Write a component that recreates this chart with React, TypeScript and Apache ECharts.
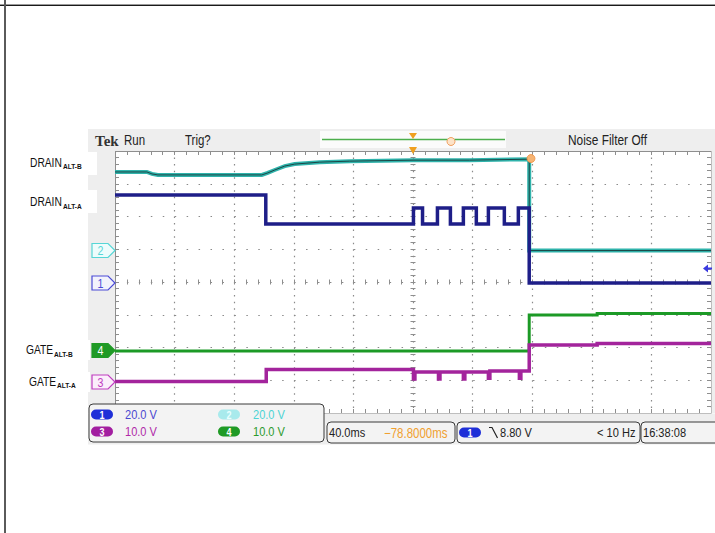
import React, { useEffect, useRef } from "react";
import * as echarts from "echarts";

// ---- Data (time in ms relative to screen centre, 40 ms/div; values in divisions from centre) ----
const timeMin = -200;
const timeMax = 200;
const timeStep = 40;
const divMin = -4;
const divMax = 4;

// CH2 – DRAIN ALT-B (cyan)
const ch2Time = [-200, -178.6, -175.2, -171.2, -101.5, -97.5, -92.8, -86.1, -79.4, -62.6, -42.5, 0, 37.9, 78, 78, 200];
const ch2Div = [3.36, 3.36, 3.3, 3.27, 3.27, 3.33, 3.42, 3.54, 3.6, 3.66, 3.69, 3.72, 3.72, 3.75, 0.96, 0.96];

// CH1 – DRAIN ALT-A (navy)
const ch1Time = [-200, -98.8, -98.8, 0.3, 0.3, 6.4, 6.4, 16.4, 16.4, 25.1, 25.1, 33.8, 33.8, 42.5, 42.5, 50.6, 50.6, 61.3, 61.3, 70.7, 70.7, 78, 78, 200];
const ch1Div = [2.66, 2.66, 1.77, 1.77, 2.26, 2.26, 1.77, 1.77, 2.26, 2.26, 1.77, 1.77, 2.26, 2.26, 1.77, 1.77, 2.26, 2.26, 1.77, 1.77, 2.26, 2.26, -0.03, -0.03];

// CH4 – GATE ALT-B (green)
const ch4Time = [-200, 78, 78, 123.6, 123.6, 200];
const ch4Div = [-2.11, -2.11, -1.01, -1.01, -0.96, -0.96];

// CH3 – GATE ALT-A (magenta)
const ch3Time = [-200, -98.5, -98.5, 0.3, 0.3, 1.3, 1.3, 17.1, 17.1, 18.1, 18.1, 33.8, 33.8, 34.8, 34.8, 50.6, 50.6, 51.6, 51.6, 71.4, 71.4, 72.4, 72.4, 78, 78, 123.6, 123.6, 200];
const ch3Div = [-3.04, -3.04, -2.67, -2.67, -2.96, -2.96, -2.75, -2.75, -2.96, -2.96, -2.75, -2.75, -2.96, -2.96, -2.75, -2.75, -2.94, -2.94, -2.72, -2.72, -2.94, -2.94, -2.72, -2.72, -1.92, -1.92, -1.88, -1.88];

// Texts
const channelIds = ["1", "2", "3", "4"];
const channelScales = ["20.0 V", "20.0 V", "10.0 V", "10.0 V"];
const traceNames = ["DRAIN", "DRAIN", "GATE", "GATE"];
const traceSubs = ["ALT-B", "ALT-A", "ALT-B", "ALT-A"];
const timeBase = "40.0ms";
const horizPos = "\u221278.8000ms";
const trigLevel = "8.80 V";
const trigFreq = "< 10 Hz";
const clock = "16:38:08";

const zip = (a: number[], b: number[]) => a.map((v, i) => [v, b[i]]);

const SCOPE_FONT = "'Liberation Sans', Arial, sans-serif";
const NARROW = 0.82;
const GRID_GRAY = "#8e8e8e";
const BG_GRAY = "#eeeeee";

function borderX(position: string, split: boolean) {
  return {
    type: "value", min: timeMin, max: timeMax, interval: timeStep, position,
    axisLine: { show: true, onZero: false, lineStyle: { color: GRID_GRAY, width: 1 } },
    axisTick: { show: true, inside: true, length: 4, lineStyle: { color: GRID_GRAY } },
    minorTick: { show: true, splitNumber: 5, length: 4, lineStyle: { color: GRID_GRAY } },
    axisLabel: { show: false },
    splitLine: split ? { show: true, lineStyle: { color: "#8a8a8a", width: 1.2, type: [1.5, 5.05] } } : { show: false },
  };
}
function centerX(inside: boolean) {
  return {
    type: "value", min: timeMin, max: timeMax, interval: timeStep, position: "bottom",
    axisLine: { show: true, onZero: true, onZeroAxisIndex: 0, lineStyle: { color: "rgba(0,0,0,0)" } },
    axisTick: { show: true, inside, length: 2.5, lineStyle: { color: GRID_GRAY } },
    minorTick: { show: true, splitNumber: 5, length: 2.5, lineStyle: { color: GRID_GRAY } },
    axisLabel: { show: false },
    splitLine: { show: false },
  };
}
function borderY(position: string, split: boolean) {
  return {
    type: "value", min: divMin, max: divMax, interval: 1, position,
    axisLine: { show: true, onZero: false, lineStyle: { color: GRID_GRAY, width: 1 } },
    axisTick: { show: true, inside: true, length: 4, lineStyle: { color: GRID_GRAY } },
    minorTick: { show: true, splitNumber: 5, length: 4, lineStyle: { color: GRID_GRAY } },
    axisLabel: { show: false },
    splitLine: split ? { show: true, lineStyle: { color: "#8a8a8a", width: 1.2, type: [1.5, 10.44] } } : { show: false },
  };
}
function centerY(inside: boolean) {
  return {
    type: "value", min: divMin, max: divMax, interval: 1, position: "left",
    axisLine: { show: true, onZero: true, onZeroAxisIndex: 0, lineStyle: { color: "rgba(0,0,0,0)" } },
    axisTick: { show: true, inside, length: 2.5, lineStyle: { color: GRID_GRAY } },
    minorTick: { show: true, splitNumber: 5, length: 2.5, lineStyle: { color: GRID_GRAY } },
    axisLabel: { show: false },
    splitLine: { show: false },
  };
}

function txt(x: number, y: number, text: string, fill: string, fontSize: number, extra: any = {}) {
  return {
    type: "text", x, y, z: 40, scaleX: NARROW,
    style: { text, fill, fontSize, fontFamily: SCOPE_FONT, textAlign: "left", textVerticalAlign: "middle", ...extra },
  };
}
function marker(y: number, label: string, color: string, filled: boolean, light: string) {
  return {
    type: "group", z: 20,
    children: [
      { type: "polygon", z: 20, shape: { points: [[92, y - 7], [108, y - 7], [115, y], [108, y + 7], [92, y + 7]] }, style: { fill: filled ? color : light, stroke: color, lineWidth: 1.2 } },
      { type: "text", z: 21, x: 100.5, y: y + 0.5, scaleX: NARROW, style: { text: label, fill: filled ? "#ffffff" : color, fontSize: 13, fontFamily: SCOPE_FONT, textAlign: "center", textVerticalAlign: "middle" } },
    ],
  };
}
function pill(x: number, cy: number, label: string, fill: string, textFill: string) {
  return {
    type: "group", z: 30,
    children: [
      { type: "rect", z: 30, shape: { x, y: cy - 5, width: 22, height: 10, r: 5 }, style: { fill } },
      { type: "text", z: 31, x: x + 11, y: cy + 0.5, scaleX: NARROW, style: { text: label, fill: textFill, fontSize: 11, fontWeight: "bold", fontFamily: SCOPE_FONT, textAlign: "center", textVerticalAlign: "middle" } },
    ],
  };
}
function box(x: number, y: number, w: number, h: number) {
  return { type: "rect", z: 25, shape: { x, y, width: w, height: h, r: 4 }, style: { fill: "#f3f3f3", stroke: "#3a3a3a", lineWidth: 1 } };
}

const labelPos = [
  { mx: 30, my: 162.5, sx: 63, sy: 166.5, bx: 22, by: 152, bw: 75, bh: 23 },
  { mx: 30, my: 202, sx: 63, sy: 206, bx: 22, by: 190, bw: 75, bh: 23 },
  { mx: 26, my: 350, sx: 54, sy: 354, bx: 20, by: 340, bw: 70, bh: 20 },
  { mx: 29, my: 381.5, sx: 57, sy: 385.5, bx: 22, by: 372, bw: 68, bh: 20 },
];

const graphics: any[] = [
  // outer frame
  { type: "line", z: 20, shape: { x1: 0, y1: 4.5, x2: 715, y2: 4.5 }, style: { stroke: "#9a9a9a", lineWidth: 1 } },
  { type: "line", z: 20, shape: { x1: 0, y1: 5.5, x2: 715, y2: 5.5 }, style: { stroke: "#1a1a1a", lineWidth: 1 } },
  { type: "line", z: 20, shape: { x1: 5, y1: 0, x2: 5, y2: 533 }, style: { stroke: "#5a5a5a", lineWidth: 2 } },
  // scope background frame
  { type: "rect", z: 1, shape: { x: 88, y: 129, width: 627, height: 22 }, style: { fill: BG_GRAY } },
  { type: "rect", z: 1, shape: { x: 88, y: 151, width: 27, height: 262 }, style: { fill: BG_GRAY } },
  { type: "rect", z: 1, shape: { x: 711.5, y: 151, width: 4, height: 262 }, style: { fill: BG_GRAY } },
  { type: "rect", z: 1, shape: { x: 88, y: 413.5, width: 627, height: 31 }, style: { fill: BG_GRAY } },
  // record view
  { type: "rect", z: 2, shape: { x: 320, y: 131, width: 186, height: 17 }, style: { fill: "#fbfbfb" } },
  { type: "line", z: 3, shape: { x1: 322, y1: 139.5, x2: 505, y2: 139.5 }, style: { stroke: "#4cae4c", lineWidth: 1.5 } },
  { type: "polygon", z: 4, shape: { points: [[409, 133], [417, 133], [413, 139]] }, style: { fill: "#f0a020" } },
  { type: "circle", z: 4, shape: { cx: 451, cy: 141.5, r: 4 }, style: { fill: "#fde3c8", stroke: "#f0a060", lineWidth: 1 } },
  { type: "polygon", z: 20, shape: { points: [[409, 147], [417, 147], [413, 154]] }, style: { fill: "#f0a020" } },
  { type: "circle", z: 20, shape: { cx: 531, cy: 158.5, r: 4 }, style: { fill: "#f6b474", stroke: "#f09040", lineWidth: 0.8 } },
  // top bar texts
  { type: "text", z: 20, x: 95, y: 140.5, style: { text: "Tek", fill: "#333333", fontSize: 15, fontWeight: "bold", fontFamily: "'Liberation Serif', 'DejaVu Serif', serif", textAlign: "left", textVerticalAlign: "middle" } },
  txt(124, 140.5, "Run", "#222222", 14),
  txt(185, 140.5, "Trig?", "#222222", 14),
  txt(568, 140, "Noise Filter Off", "#222222", 14.5),
  // trigger level arrow
  { type: "polygon", z: 20, shape: { points: [[703, 268.5], [708, 264.5], [708, 272.5]] }, style: { fill: "#3a3ae0" } },
  { type: "rect", z: 20, shape: { x: 707, y: 267.5, width: 5, height: 2 }, style: { fill: "#3a3ae0" } },
  // channel ground markers
  marker(250.5, channelIds[1], "#56d6d6", false, "#eefcfc"),
  marker(283, channelIds[0], "#4a4ad6", false, "#f2f2fc"),
  marker(350.5, channelIds[3], "#1f9a25", true, "#1f9a25"),
  marker(382, channelIds[2], "#c03cc0", false, "#fbeefb"),
  // legend box
  box(89, 404, 235, 38),
  pill(91, 414.5, channelIds[0], "#1e2fd8", "#ffffff"),
  txt(125, 414.5, channelScales[0], "#4a48d0", 13.5),
  pill(218, 414.5, channelIds[1], "#a8eaec", "#eaffff"),
  txt(253, 414.5, channelScales[1], "#4cd4d4", 13.5),
  pill(91, 431.5, channelIds[2], "#a21ea0", "#ffffff"),
  txt(125, 431.5, channelScales[2], "#b02aa8", 13.5),
  pill(218, 431.5, channelIds[3], "#1f9a25", "#ffffff"),
  txt(253, 431.5, channelScales[3], "#2c9a2c", 13.5),
  // status boxes
  box(327, 422, 128, 21),
  txt(329, 433, timeBase, "#222222", 13.5),
  txt(384, 433, horizPos, "#f0a030", 14),
  box(457, 422, 183, 21),
  pill(459, 432.5, channelIds[0], "#1e2fd8", "#ffffff"),
  { type: "polyline", z: 40, shape: { points: [[489, 427.5], [492, 427.5], [497.5, 438]] }, style: { stroke: "#222222", lineWidth: 1.2, fill: null } },
  txt(500, 433, trigLevel, "#222222", 13.5),
  txt(597, 433, trigFreq, "#222222", 13.5),
  box(641, 422, 90, 21),
  txt(643, 433, clock, "#222222", 13.5),
];

// trace labels on the left
labelPos.forEach((p, i) => {
  graphics.push({ type: "rect", z: 5, shape: { x: p.bx, y: p.by, width: p.bw, height: p.bh }, style: { fill: "#ffffff" } });
  graphics.push(txt(p.mx, p.my, traceNames[i], "#111111", 12.5));
  graphics.push(txt(p.sx, p.sy, traceSubs[i], "#111111", 8, { fontWeight: "bold" }));
});

function lineSeries(name: string, t: number[], v: number[], color: string, width: number, z: number) {
  return {
    type: "line", name, data: zip(t, v), symbol: "none", showSymbol: false,
    xAxisIndex: 0, yAxisIndex: 0, z, silent: true,
    lineStyle: { color, width, join: "miter" },
  };
}

const option: any = {
  animation: false,
  backgroundColor: "#ffffff",
  grid: { left: 115, top: 151, width: 596, height: 262, show: true, backgroundColor: "#ffffff", borderWidth: 0 },
  xAxis: [borderX("bottom", true), borderX("top", false), centerX(true), centerX(false)],
  yAxis: [borderY("left", true), borderY("right", false), centerY(true), centerY(false)],
  series: [
    lineSeries("CH2", ch2Time, ch2Div, "#2fb3ab", 4, 3),
    lineSeries("CH2 core", ch2Time, ch2Div, "#1c4646", 1, 4),
    lineSeries("CH1", ch1Time, ch1Div, "#1e1e88", 3.5, 5),
    lineSeries("CH4", ch4Time, ch4Div, "#1c9a26", 3, 6),
    lineSeries("CH3", ch3Time, ch3Div, "#a3249c", 3.5, 7),
  ],
  graphic: { elements: graphics },
};

export default function App() {
  const ref = useRef<HTMLDivElement>(null);
  useEffect(() => {
    const chart = echarts.init(ref.current!, null, { renderer: "svg", width: 715, height: 533 });
    chart.setOption(option);
    return () => chart.dispose();
  }, []);
  return <div ref={ref} style={{ position: "fixed", left: 0, top: 0, width: 715, height: 533, background: "#ffffff" }} />;
}
